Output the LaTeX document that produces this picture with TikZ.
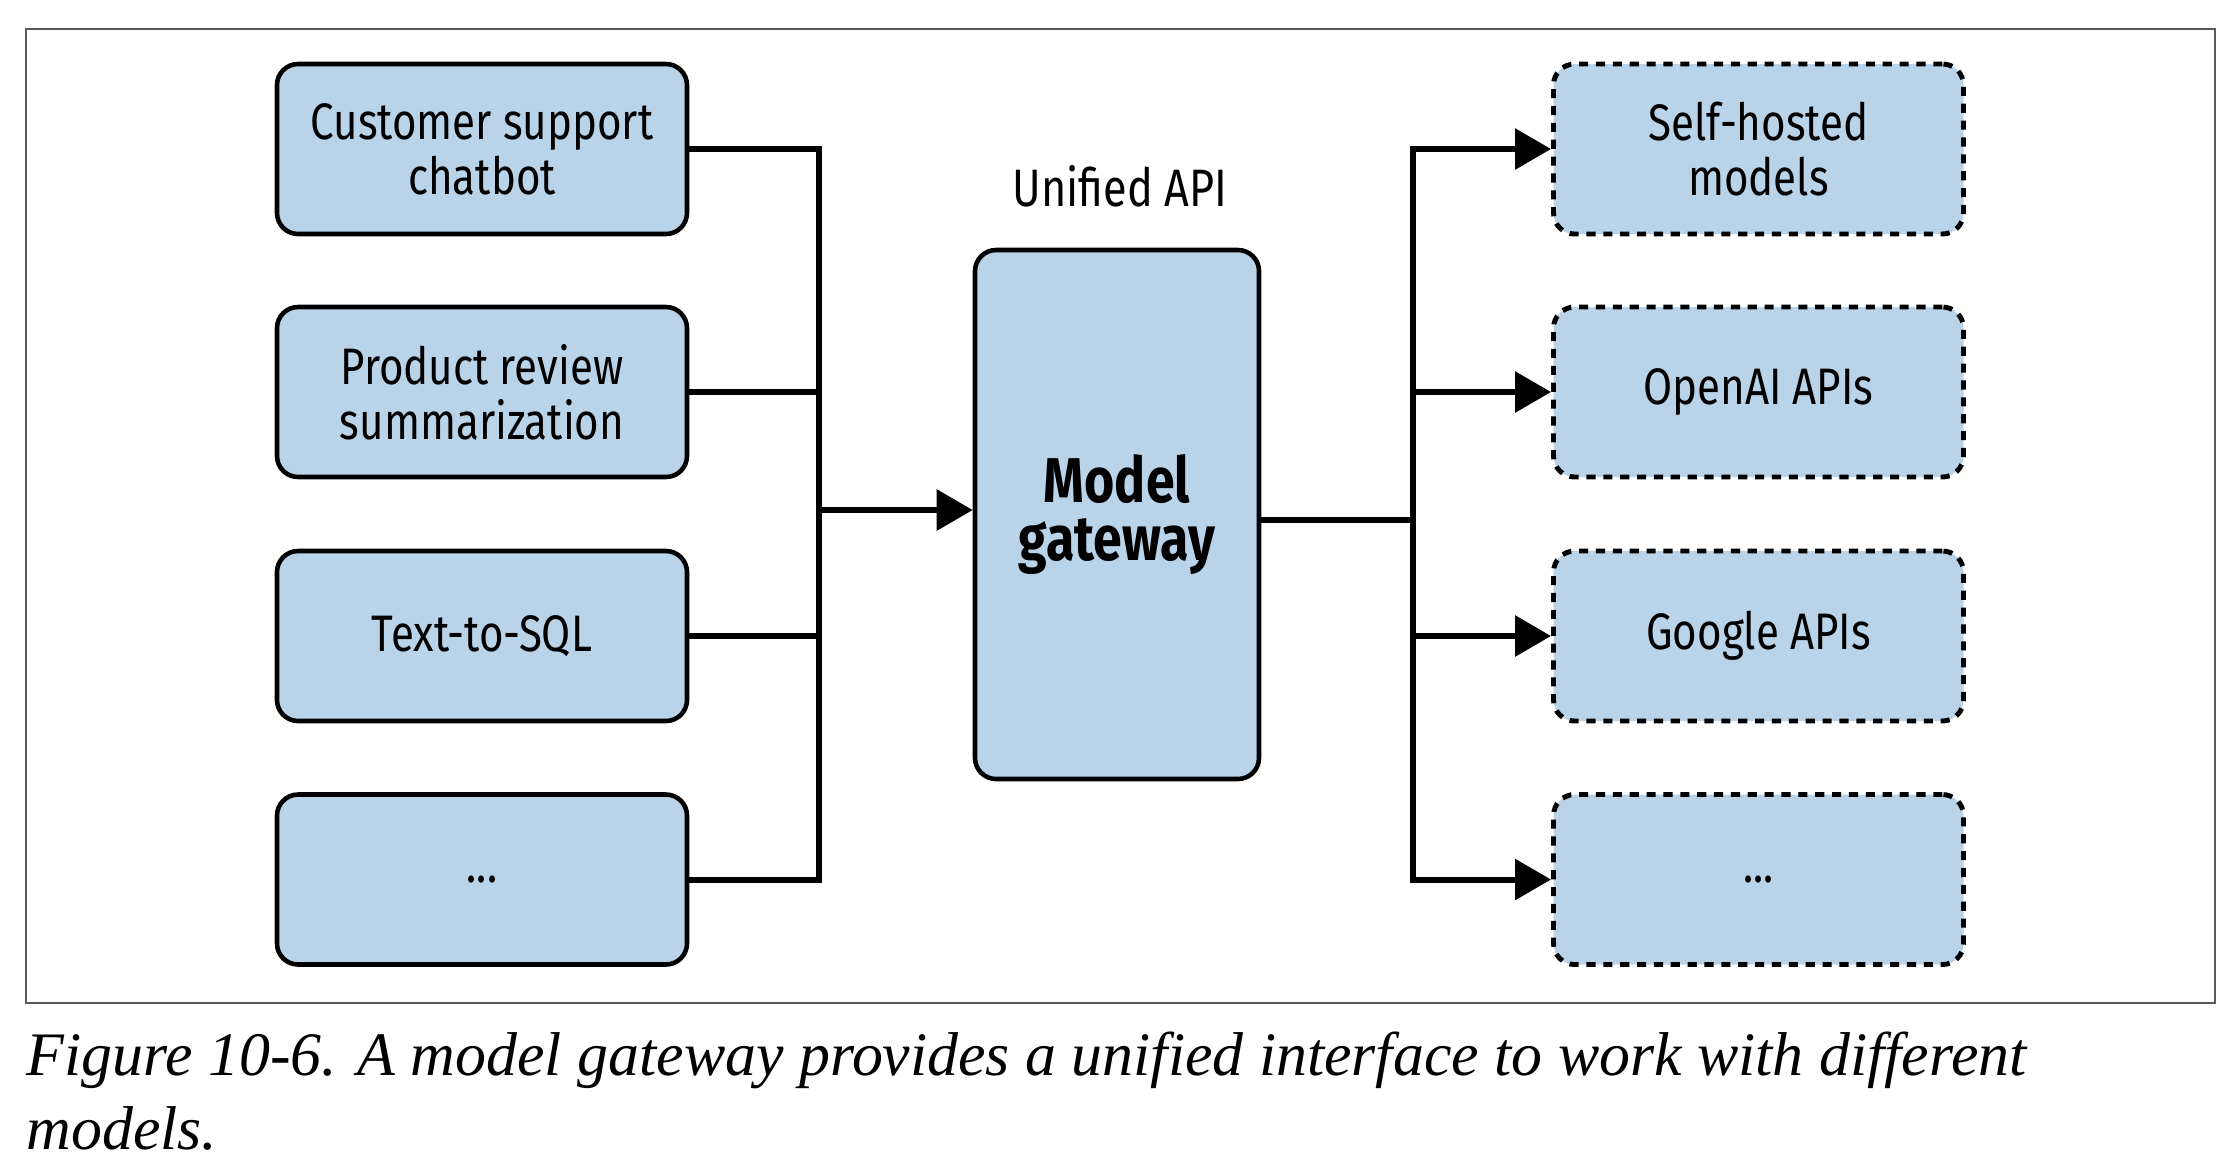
\documentclass[tikz,border=0pt]{standalone}
\usepackage{fontspec}
\setmainfont{Liberation Serif}
\newfontfamily\diagfont[FakeStretch=0.82]{Fira Sans}
\usetikzlibrary{positioning, arrows.meta}
\definecolor{boxblue}{RGB}{185,211,233}

\begin{document}
\begin{tikzpicture}[
  appbox/.style={draw, line width=1.3pt, rounded corners=6pt, fill=boxblue,
    minimum width=4.10cm, minimum height=1.70cm, align=center, inner sep=2pt,
    font=\diagfont\fontsize{14.6}{15.6}\selectfont},
  provbox/.style={appbox, line width=1.4pt, dash pattern=on 2.6pt off 2.2pt},
  gwbox/.style={appbox, minimum width=2.84cm, minimum height=5.29cm,
    font=\diagfont\bfseries\fontsize{18}{16.4}\selectfont},
  link/.style={line width=1.7pt},
  tip/.style={link, -{Triangle[length=0.36cm, width=0.40cm]}}
]
\useasboundingbox (0,0) rectangle (22.38,-11.62);
\draw [gray!70!black, line width=0.6pt] (0.26,-0.29) rectangle (22.15,-10.03);

% Applications
\node [appbox] (app1) at (4.82,-1.49) {Customer support\\chatbot};
\node [appbox] (app2) at (4.82,-3.92) {Product review\\summarization};
\node [appbox] (app3) at (4.82,-6.36) {Text-to-SQL};
\node [appbox] (app4) at (4.82,-8.795) {...};

% Gateway
\node [gwbox] (gw) at (11.17,-5.145) {Model\\gateway};
\node [font=\diagfont\fontsize{15}{16}\selectfont] (api) at (11.20,-1.86) {Unified API};

% Providers
\node [provbox] (prov1) at (17.585,-1.49) {Self-hosted\\models};
\node [provbox] (prov2) at (17.585,-3.92) {OpenAI APIs};
\node [provbox] (prov3) at (17.585,-6.36) {Google APIs};
\node [provbox] (prov4) at (17.585,-8.795) {...};

% Connectors
\coordinate (inbus) at (8.19,-5.10);
\coordinate (outbus) at (14.13,-5.20);
\draw [link] (app1.east) -| (inbus);
\draw [link] (app2.east) -| (inbus);
\draw [link] (app3.east) -| (inbus);
\draw [link] (app4.east) -| (inbus);
\draw [tip] (inbus) -- (inbus -| gw.west);
\draw [link] (gw.east |- outbus) -- (outbus);
\draw [tip] (outbus) |- (prov1.west);
\draw [tip] (outbus) |- (prov2.west);
\draw [tip] (outbus) |- (prov3.west);
\draw [tip] (outbus) |- (prov4.west);

% Caption
\node [anchor=north west, align=left, inner sep=0pt,
  font=\itshape\fontsize{17.6}{21}\selectfont] (caption) at (0.26,-10.31)
  {Figure 10-6. A model gateway provides a unified interface to work with different\\models.};
\end{tikzpicture}
\end{document}
